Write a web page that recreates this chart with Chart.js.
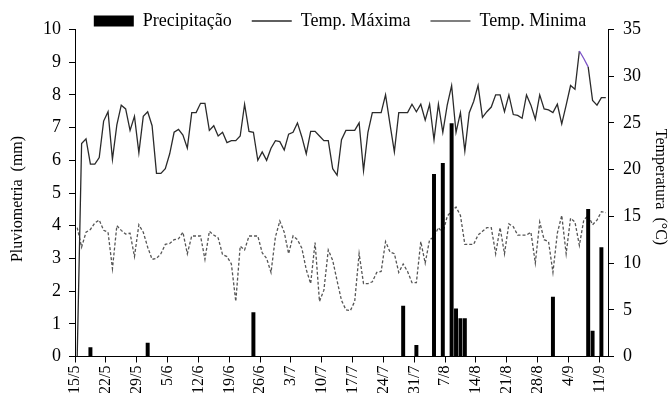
<!DOCTYPE html>
<html>
<head>
<meta charset="utf-8">
<script src="https://cdn.jsdelivr.net/npm/chart.js@4.4.1/dist/chart.umd.min.js"></script>
<style>
  html, body { margin: 0; padding: 0; background: #fff; overflow: hidden; }
  canvas { display: block; }
</style>
</head>
<body>
<canvas id="chart" width="670" height="400"></canvas>
<script>
// one category per day, 15/5 .. 12/9
const firstDay = new Date(2000, 4, 15);
const dayCount = 121;
const days = [];
for (let i = 0; i < dayCount; i++) {
  const d = new Date(firstDay);
  d.setDate(d.getDate() + i);
  days.push(d.getDate() + '/' + (d.getMonth() + 1));
}
const tickEvery = 7; // a label each week

// precipitation (mm)
const rainMm = [
  0, 0, 0, 0.28, 0, 0, 0, 0, 0, 0,
  0, 0, 0, 0, 0, 0, 0.42, 0, 0, 0,
  0, 0, 0, 0, 0, 0, 0, 0, 0, 0,
  0, 0, 0, 0, 0, 0, 0, 0, 0, 0,
  1.35, 0, 0, 0, 0, 0, 0, 0, 0, 0,
  0, 0, 0, 0, 0, 0, 0, 0, 0, 0,
  0, 0, 0, 0, 0, 0, 0, 0, 0, 0,
  0, 0, 0, 0, 1.55, 0, 0, 0.35, 0, 0,
  0, 5.58, 0, 5.92, 0, 7.13, 1.47, 1.17, 1.17, 0,
  0, 0, 0, 0, 0, 0, 0, 0, 0, 0,
  0, 0, 0, 0, 0, 0, 0, 0, 1.83, 0,
  0, 0, 0, 0, 0, 0, 4.51, 0.79, 0, 3.34,
  0
];

// maximum temperature (°C)
const tMax = [
  0, 22.8, 23.3, 20.6, 20.6, 21.3, 25.2, 26.2, 21.1, 24.8,
  26.9, 26.5, 24.2, 25.7, 21.8, 25.7, 26.2, 24.7, 19.6, 19.6,
  20.1, 21.7, 24.0, 24.3, 23.7, 22.3, 26.1, 26.1, 27.1, 27.1,
  24.2, 24.7, 23.6, 24.0, 22.9, 23.1, 23.1, 23.6, 27.0, 24.1,
  24.0, 21.0, 21.9, 21.0, 22.3, 23.1, 23.0, 22.1, 23.8, 24.0,
  25.0, 23.5, 21.7, 24.1, 24.1, 23.6, 23.1, 23.1, 20.1, 19.4,
  23.2, 24.2, 24.2, 24.2, 25.0, 19.9, 24.0, 26.1, 26.1, 26.1,
  28.0, 24.9, 21.9, 26.1, 26.1, 26.1, 27.0, 26.2, 27.0, 25.3,
  27.0, 23.2, 27.0, 24.0, 26.9, 29.0, 24.0, 26.1, 22.0, 26.1,
  27.3, 29.0, 25.6, 26.2, 26.7, 28.0, 28.0, 26.2, 28.0, 25.9,
  25.8, 25.5, 28.0, 26.9, 25.4, 28.0, 26.5, 26.4, 26.1, 27.0,
  24.9, 26.9, 29.0, 28.6, 32.7, 31.9, 31.0, 27.4, 26.9, 27.7,
  27.7
];

// minimum temperature (°C)
const tMin = [
  13.8, 11.7, 13.3, 13.6, 14.3, 14.6, 13.5, 13.3, 9.4, 14.0,
  13.5, 13.1, 13.2, 10.7, 14.1, 13.3, 11.7, 10.4, 10.5, 11.0,
  12.0, 12.1, 12.5, 12.6, 13.3, 11.0, 12.9, 12.9, 12.9, 10.4,
  13.4, 13.0, 12.7, 10.9, 10.7, 9.9, 5.9, 11.8, 11.4, 12.9,
  12.9, 12.9, 11.1, 10.5, 9.0, 12.8, 14.5, 13.3, 11.0, 12.9,
  12.5, 11.6, 9.3, 7.8, 12.2, 5.9, 7.1, 11.4, 10.3, 8.1,
  6.0, 5.0, 4.9, 5.9, 11.0, 7.8, 7.8, 8.0, 9.0, 9.1,
  12.3, 11.2, 11.0, 9.0, 9.9, 9.1, 7.9, 7.9, 12.3, 10.0,
  12.5, 12.8, 13.8, 13.2, 15.0, 15.6, 16.0, 15.1, 12.0, 12.0,
  12.0, 13.0, 13.4, 13.8, 13.8, 11.0, 13.8, 11.0, 14.2, 13.9,
  13.0, 13.0, 13.0, 13.3, 10.0, 14.4, 12.5, 12.3, 9.0, 13.2,
  15.1, 11.0, 14.8, 14.4, 11.9, 14.6, 15.1, 14.1, 14.6, 15.5,
  15.4
];

const legendPad = 20;
const legendFont = 18;
const legendMidY = 21;
const legendShiftX = 5;

// the legend sits over the top of the plot, as in the picture:
// it takes no room in the layout and is moved after layout
const legendUp = {
  id: 'legendUp',
  afterInit(chart) {
    const lg = chart.legend;
    const fit = lg.fit.bind(lg);
    lg.fit = function () { fit(); this.height = 0; };
  },
  afterLayout(chart) {
    const lg = chart.legend;
    lg.top = legendMidY - legendPad - legendFont / 2;
    lg.left += legendShiftX;
    lg.right += legendShiftX;
  }
};

Chart.defaults.font.family = '"Liberation Serif", "Times New Roman", serif';
Chart.defaults.color = '#000';

const ctx = document.getElementById('chart').getContext('2d');
new Chart(ctx, {
  type: 'bar',
  data: {
    labels: days,
    datasets: [
      {
        type: 'bar',
        label: 'Precipitação',
        data: rainMm,
        yAxisID: 'y',
        backgroundColor: '#000',
        borderWidth: 0,
        barPercentage: 0.9,
        categoryPercentage: 1,
        pointStyle: 'rect'
      },
      {
        type: 'line',
        label: 'Temp. Máxima',
        data: tMax,
        yAxisID: 'y1',
        borderColor: '#2a2a2a',
        borderWidth: 1.3,
        pointRadius: 0,
        pointStyle: 'line',
        segment: {
          borderColor: c => (c.p0DataIndex === 114 || c.p0DataIndex === 115) ? '#7d55c7' : undefined
        }
      },
      {
        type: 'line',
        label: 'Temp. Minima',
        data: tMin,
        yAxisID: 'y1',
        borderColor: '#555',
        borderWidth: 1.3,
        borderDash: [3, 2],
        pointRadius: 0,
        pointStyle: 'line'
      }
    ]
  },
  options: {
    responsive: false,
    animation: false,
    devicePixelRatio: 1,
    layout: { padding: { top: 29.5 } },
    plugins: {
      tooltip: { enabled: false },
      legend: {
        position: 'top',
        align: 'center',
        labels: {
          usePointStyle: true,
          pointStyleWidth: 40,
          boxHeight: 11,
          padding: legendPad,
          color: '#000',
          font: { size: legendFont }
        }
      }
    },
    scales: {
      x: {
        offset: true,
        grid: {
          offset: true,
          drawOnChartArea: false,
          tickLength: 6,
          color: c => c.index % tickEvery === 0 ? '#000' : 'rgba(0,0,0,0)'
        },
        border: { color: '#000' },
        ticks: {
          autoSkip: false,
          minRotation: 90,
          maxRotation: 90,
          padding: 3,
          labelOffset: -2,
          font: { size: 16 },
          callback: (v, i) => i % tickEvery === 0 ? days[i] : ''
        },
        afterFit: s => { s.height = 400 - 356.5; }
      },
      y: {
        position: 'left',
        min: 0,
        max: 10,
        ticks: { stepSize: 1, padding: 8, font: { size: 18 } },
        grid: { drawOnChartArea: false, tickLength: 6, color: '#000' },
        border: { color: '#000' },
        title: {
          display: true,
          text: 'Pluviometria  (mm)   ',
          font: { size: 16 },
          padding: { top: 8 }
        },
        afterFit: s => { s.width = 75; }
      },
      y1: {
        position: 'right',
        min: 0,
        max: 35,
        ticks: { stepSize: 5, padding: 9, font: { size: 18 } },
        grid: { drawOnChartArea: false, tickLength: 6, color: '#000' },
        border: { color: '#000' },
        title: {
          display: true,
          text: 'Temperatura  (°C)   ',
          font: { size: 16 },
          padding: { top: 0 }
        },
        afterFit: s => { s.width = 62; }
      }
    }
  },
  plugins: [legendUp]
});
</script>
</body>
</html>
